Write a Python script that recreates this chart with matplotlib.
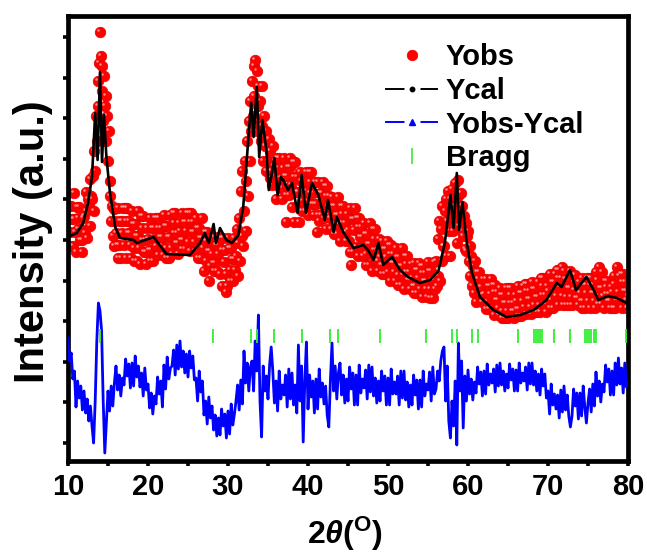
import numpy as np
import matplotlib
matplotlib.use('Agg')
import matplotlib.pyplot as plt
from matplotlib.lines import Line2D
from matplotlib.legend_handler import HandlerTuple
import matplotlib.transforms as mtransforms

# ---------------- data ----------------
obs_start, obs_end, n_obs = 10.0, 80.0, 701      # 0.1 deg step
dif_start, dif_end, n_dif = 10.0, 80.0, 351      # 0.2 deg step

yobs = [
    268, 255, 229, 215, 255, 242, 215, 268, 242, 229,   # 10
    209, 254, 243, 232, 254, 221, 232, 209, 221, 243,   # 11
    245, 228, 269, 250, 223, 262, 256, 235, 282, 265,   # 12
    262, 285, 250, 310, 290, 345, 320, 380, 355, 398,   # 13
    429, 405, 370, 395, 340, 385, 355, 365, 320, 345,   # 14
    300, 330, 265, 280, 240, 255, 225, 252, 215, 240,   # 15
    228, 216, 253, 203, 216, 240, 203, 228, 240, 253,   # 16
    216, 253, 203, 240, 253, 228, 240, 216, 228, 203,   # 17
    250, 237, 213, 200, 237, 225, 200, 250, 225, 213,   # 18
    197, 245, 233, 221, 245, 209, 221, 197, 209, 233,   # 19
    222, 211, 243, 200, 211, 233, 200, 222, 233, 243,   # 20
    215, 243, 206, 233, 243, 224, 233, 215, 224, 206,   # 21
    246, 235, 213, 203, 235, 224, 203, 246, 224, 213,   # 22
    207, 248, 238, 228, 248, 218, 228, 207, 218, 238,   # 23
    230, 221, 248, 212, 221, 239, 212, 230, 239, 248,   # 24
    219, 248, 210, 239, 248, 229, 239, 219, 229, 210,   # 25
    243, 233, 213, 203, 233, 223, 203, 243, 223, 213,   # 26
    190, 229, 220, 200, 229, 210, 180, 195, 210, 220,   # 27
    207, 198, 224, 190, 198, 216, 190, 207, 216, 224,   # 28
    187, 223, 175, 211, 223, 199, 211, 187, 169, 175,   # 29
    223, 213, 191, 180, 213, 202, 180, 223, 202, 191,   # 30
    205, 232, 185, 218, 243, 200, 270, 225, 290, 215,   # 31
    250, 300, 230, 280, 320, 265, 340, 300, 360, 330,   # 32
    380, 345, 395, 365, 401, 330, 390, 355, 375, 340,   # 33
    360, 320, 375, 335, 300, 345, 315, 330, 290, 320,   # 34
    300, 322, 283, 310, 290, 276, 315, 295, 285, 300,   # 35
    262, 303, 293, 283, 303, 273, 283, 262, 273, 293,   # 36
    303, 285, 239, 266, 285, 294, 266, 303, 294, 276,   # 37
    254, 299, 239, 284, 299, 269, 284, 254, 269, 239,   # 38
    289, 280, 260, 250, 280, 270, 250, 289, 270, 260,   # 39
    246, 289, 279, 268, 289, 257, 268, 246, 257, 279,   # 40
    257, 229, 279, 246, 240, 268, 246, 257, 268, 279,   # 41
    243, 275, 232, 265, 275, 254, 265, 243, 254, 232,   # 42
    264, 255, 237, 227, 255, 246, 227, 264, 246, 237,   # 43
    220, 255, 247, 238, 255, 229, 238, 220, 229, 247,   # 44
    231, 220, 253, 209, 196, 242, 209, 231, 242, 253,   # 45
    214, 243, 205, 234, 243, 224, 234, 214, 224, 205,   # 46
    238, 227, 207, 196, 227, 217, 196, 238, 217, 207,   # 47
    190, 232, 222, 211, 232, 200, 211, 190, 200, 222,   # 48
    204, 196, 220, 187, 196, 212, 187, 204, 212, 220,   # 49
    189, 216, 180, 207, 216, 198, 207, 189, 198, 180,   # 50
    213, 204, 186, 176, 204, 195, 176, 213, 195, 186,   # 51
    172, 205, 197, 189, 205, 181, 189, 172, 181, 197,   # 52
    183, 175, 198, 168, 175, 191, 168, 183, 191, 198,   # 53
    172, 195, 164, 188, 195, 180, 188, 172, 180, 164,   # 54
    199, 190, 172, 163, 190, 181, 163, 199, 181, 172,   # 55
    200, 175, 222, 185, 240, 180, 232, 200, 255, 215,   # 56
    215, 250, 262, 205, 240, 270, 230, 262, 205, 250,   # 57
    272, 230, 255, 240, 278, 250, 218, 265, 281, 235,   # 58
    250, 268, 230, 255, 225, 245, 212, 238, 210, 225,   # 59
    230, 200, 215, 185, 205, 175, 195, 168, 185, 200,   # 60
    159, 189, 182, 174, 189, 166, 174, 159, 166, 182,   # 61
    167, 159, 182, 152, 159, 175, 152, 167, 175, 182,   # 62
    153, 176, 146, 169, 176, 161, 169, 153, 161, 146,   # 63
    173, 166, 150, 143, 166, 158, 143, 173, 158, 150,   # 64
    143, 173, 166, 158, 173, 150, 158, 143, 150, 166,   # 65
    160, 152, 175, 145, 152, 168, 145, 160, 168, 175,   # 66
    154, 177, 147, 170, 177, 162, 170, 154, 162, 147,   # 67
    179, 172, 156, 149, 172, 164, 149, 179, 164, 156,   # 68
    149, 183, 175, 166, 183, 157, 166, 149, 157, 175,   # 69
    170, 161, 187, 153, 161, 179, 153, 170, 179, 187,   # 70
    165, 191, 156, 183, 191, 174, 183, 165, 194, 156,   # 71
    190, 182, 164, 156, 182, 173, 156, 190, 173, 164,   # 72
    156, 186, 179, 171, 186, 163, 171, 156, 163, 179,   # 73
    168, 160, 183, 153, 160, 176, 153, 168, 176, 183,   # 74
    160, 183, 153, 176, 183, 168, 176, 160, 168, 153,   # 75
    189, 181, 165, 157, 194, 173, 157, 189, 173, 165,   # 76
    153, 180, 174, 167, 180, 160, 167, 153, 160, 174,   # 77
    169, 153, 185, 177, 153, 161, 194, 169, 161, 185,   # 78
    161, 187, 153, 179, 187, 170, 179, 161, 170, 153,   # 79
    165,                                                # 80
]

ycal_x = [10.0, 11.1, 11.9, 12.5, 13.0, 13.4, 13.7, 14.0, 14.25, 14.5, 14.8, 15.25,
          15.9, 16.5, 18.2, 18.6, 20.7, 22.3, 25.25, 26.5, 27.1, 27.6, 28.2, 28.5,
          29.0, 29.8, 30.5, 31.3, 31.9, 32.3, 32.5, 32.9, 33.2, 33.6, 33.9, 34.3,
          34.8, 35.1, 35.5, 35.8, 36.2, 36.6, 36.9, 37.5, 38.0, 38.7, 39.2, 39.75,
          40.5, 41.3, 42.1, 42.5, 43.2, 43.6, 44.4, 45.7, 46.9, 47.5, 48.2, 48.8,
          49.4, 50.5, 51.5, 52.5, 54.0, 55.25, 56.3, 57.1, 57.5, 57.8, 58.2, 58.6,
          58.9, 59.3, 59.8, 60.5, 61.5, 63.2, 64.8, 66.5, 68.2, 69.8, 71.1, 71.7,
          72.75, 73.5, 74.8, 75.7, 76.3, 77.5, 78.6, 79.8, 80.0]
ycal_y = [224, 228, 238, 258, 284, 348, 301, 389, 299, 346, 304, 268,
          234, 223, 221, 218, 224, 207, 206, 218, 228, 218, 237, 218,
          233, 221, 218, 226, 254, 296, 318, 358, 324, 374, 304, 341,
          311, 271, 288, 303, 266, 284, 281, 271, 278, 248, 286, 248,
          278, 266, 241, 261, 229, 244, 229, 213, 216, 211, 201, 218,
          196, 204, 191, 184, 178, 181, 190, 218, 244, 266, 233, 288,
          231, 259, 221, 188, 164, 151, 144, 146, 151, 161, 178, 174,
          191, 171, 184, 171, 161, 165, 163, 158, 157]

ydiff = [
    123, 100, 108, 82, 90,    # 10
    54, 80, 63, 75, 51,       # 11
    70, 48, 62, 40, 55,       # 12
    35, 18, 60, 120, 158,     # 13
    150, 130, 60, 8, 40,      # 14
    70, 50, 75, 55, 78,       # 15
    95, 71, 86, 65, 83,       # 16
    76, 102, 85, 97, 73,      # 17
    98, 75, 105, 84, 95,      # 18
    74, 88, 65, 93, 71,       # 19
    77, 53, 68, 47, 65,       # 20
    57, 84, 67, 80, 54,       # 21
    96, 72, 104, 82, 93,      # 22
    95, 111, 86, 116, 92,     # 23
    120, 94, 110, 88, 107,    # 24
    84, 110, 93, 105, 81,     # 25
    83, 60, 90, 69, 80,       # 26
    46, 60, 37, 64, 43,       # 27
    55, 31, 46, 25, 43,       # 28
    26, 52, 35, 47, 23,       # 29
    50, 27, 57, 36, 47,       # 30
    60, 76, 51, 81, 57,       # 31
    110, 78, 98, 70, 94,      # 32
    100, 70, 120, 90, 146,    # 33
    60, 24, 95, 70, 85,       # 34
    62, 96, 114, 90, 58,      # 35
    80, 50, 90, 62, 76,       # 36
    66, 86, 54, 92, 62,       # 37
    88, 56, 76, 48, 116,      # 38
    60, 95, 19, 80, 119,      # 39
    52, 86, 64, 80, 48,       # 40
    82, 52, 92, 64, 78,       # 41
    57, 75, 46, 34, 80,       # 42
    118, 70, 95, 62, 88,      # 43
    98, 66, 86, 58, 82,       # 44
    60, 94, 72, 88, 56,       # 45
    86, 56, 96, 68, 82,       # 46
    73, 91, 62, 96, 69,       # 47
    94, 65, 83, 58, 80,       # 48
    60, 90, 70, 85, 56,       # 49
    83, 56, 92, 67, 79,       # 50
    67, 85, 56, 90, 63,       # 51
    90, 61, 79, 54, 76,       # 52
    56, 86, 66, 81, 52,       # 53
    81, 54, 90, 65, 77,       # 54
    71, 89, 60, 94, 67,       # 55
    72, 90, 80, 100, 110,     # 56
    114, 60, 95, 40, 23,      # 57
    60, 35, 80, 16, 118,      # 58
    70, 100, 33, 85, 60,      # 59
    91, 67, 82, 61, 79,       # 60
    68, 94, 77, 89, 65,       # 61
    90, 67, 97, 76, 87,       # 62
    78, 92, 69, 96, 75,       # 63
    98, 76, 90, 70, 87,       # 64
    73, 97, 81, 92, 70,       # 65
    91, 70, 98, 78, 88,       # 66
    80, 94, 71, 98, 77,       # 67
    98, 76, 90, 70, 87,       # 68
    66, 92, 75, 87, 63,       # 69
    70, 47, 77, 56, 67,       # 70
    52, 66, 43, 71, 49,       # 71
    75, 51, 66, 45, 34,       # 72
    45, 72, 55, 68, 42,       # 73
    68, 45, 75, 54, 38,       # 74
    58, 72, 49, 77, 55,       # 75
    89, 65, 80, 59, 77,       # 76
    69, 96, 79, 92, 66,       # 77
    90, 66, 98, 76, 103,      # 78
    77, 93, 68, 98, 74,       # 79
    78,                       # 80
]

bragg_pos = [14.0, 28.1, 32.9, 33.6, 35.8, 39.3, 42.75, 43.7, 49.0, 54.8, 58.0, 58.6,
             60.5, 61.3, 66.2, 68.25, 68.5, 68.75, 69.0, 69.3, 70.7, 72.8, 74.6,
             74.9, 75.1, 75.4, 75.8, 76.0, 79.8]
bragg_low, bragg_high = 118, 132

x_ticks = [10, 20, 30, 40, 50, 60, 70, 80]
legend_labels = ['Yobs', 'Ycal', 'Yobs-Ycal', 'Bragg']

# ---------------- style ----------------
plt.rcParams['mathtext.fontset'] = 'custom'
plt.rcParams['mathtext.rm'] = 'Liberation Sans:bold'
plt.rcParams['mathtext.it'] = 'Liberation Sans:bold:italic'
plt.rcParams['mathtext.bf'] = 'Liberation Sans:bold'
FONT = ['Liberation Sans', 'DejaVu Sans']

RED = '#ff0000'
BLUE = '#0000ff'
GREEN = '#33ee33'

fig = plt.figure(figsize=(6.47, 5.6), dpi=100)
ax = fig.add_axes([68 / 647, 1 - 461 / 560, 560 / 647, 445 / 560])

x_obs = np.linspace(obs_start, obs_end, n_obs)
x_dif = np.linspace(dif_start, dif_end, n_dif)

ax.plot(x_obs, yobs, ls='none', marker='o', ms=7.6, mfc=RED, mec='#e80000',
        mew=0.5, zorder=2)
offset = mtransforms.ScaledTranslation(-2 / 100, 2 / 100, fig.dpi_scale_trans)
ax.plot(x_obs, yobs, ls='none', marker='o', ms=1.8, mfc='white', mec='none',
        alpha=0.55, transform=ax.transData + offset, zorder=2.1)
ax.plot(ycal_x, ycal_y, color='black', lw=1.9, zorder=3)
ax.plot(x_dif, ydiff, color=BLUE, lw=2.0, zorder=3)
ax.vlines(bragg_pos, bragg_low, bragg_high, color=GREEN, lw=1.3, zorder=3)

ax.set_xlim(10, 80)
ax.set_ylim(0, 445)
ax.set_xticks(x_ticks)
ax.set_xticks([15, 25, 35, 45, 55, 65, 75], minor=True)
ax.set_yticks(np.arange(18, 440, 40.6))
ax.set_yticklabels([])

for sp in ax.spines.values():
    sp.set_linewidth(3.4)
ax.tick_params(axis='both', which='both', direction='out', length=3.5, width=2.6,
               top=False, right=False)
ax.tick_params(axis='x', which='major', pad=5)
for lab in ax.get_xticklabels():
    lab.set_fontfamily(FONT)
    lab.set_fontweight('bold')
    lab.set_fontsize(21)

ax.set_xlabel('2$\\theta$($^{\\mathrm{O}}$)', fontsize=23, fontweight='bold',
              family=FONT)
ax.xaxis.set_label_coords(0.495, -0.163)
ax.xaxis.label.set_verticalalignment('center')
ax.set_ylabel('Intensity (a.u.)', fontsize=30, fontweight='bold', family=FONT)
ax.yaxis.set_label_coords(-0.062, 0.492)
ax.yaxis.label.set_verticalalignment('center')

# ---------------- legend ----------------
h_obs = Line2D([], [], ls='none', marker='o', ms=7.6, mfc=RED, mec='#e80000', mew=0.5)
h_cal = (Line2D([], [], color='black', lw=1.4),
         Line2D([], [], ls='none', marker='s', ms=11.5, mfc='white', mec='none'),
         Line2D([], [], ls='none', marker='o', ms=3.2, mfc='black', mec='black'))
h_dif = (Line2D([], [], color=BLUE, lw=1.4),
         Line2D([], [], ls='none', marker='s', ms=11.5, mfc='white', mec='none'),
         Line2D([], [], ls='none', marker='^', ms=4, mfc=BLUE, mec=BLUE))
h_brg = Line2D([], [], ls='none', marker='|', ms=11, mew=1.2, color=GREEN)
leg = ax.legend([h_obs, h_cal, h_dif, h_brg], legend_labels,
                handler_map={tuple: HandlerTuple(ndivide=1, pad=0)},
                loc='upper left', bbox_to_anchor=(386 / 647, 1 - 43 / 560),
                bbox_transform=fig.transFigure, frameon=False, numpoints=1,
                handlelength=1.75, handletextpad=0.3, labelspacing=0.2,
                borderpad=0, borderaxespad=0,
                prop={'family': FONT, 'weight': 'bold', 'size': 21})

fig.savefig('out.png', dpi=100)
